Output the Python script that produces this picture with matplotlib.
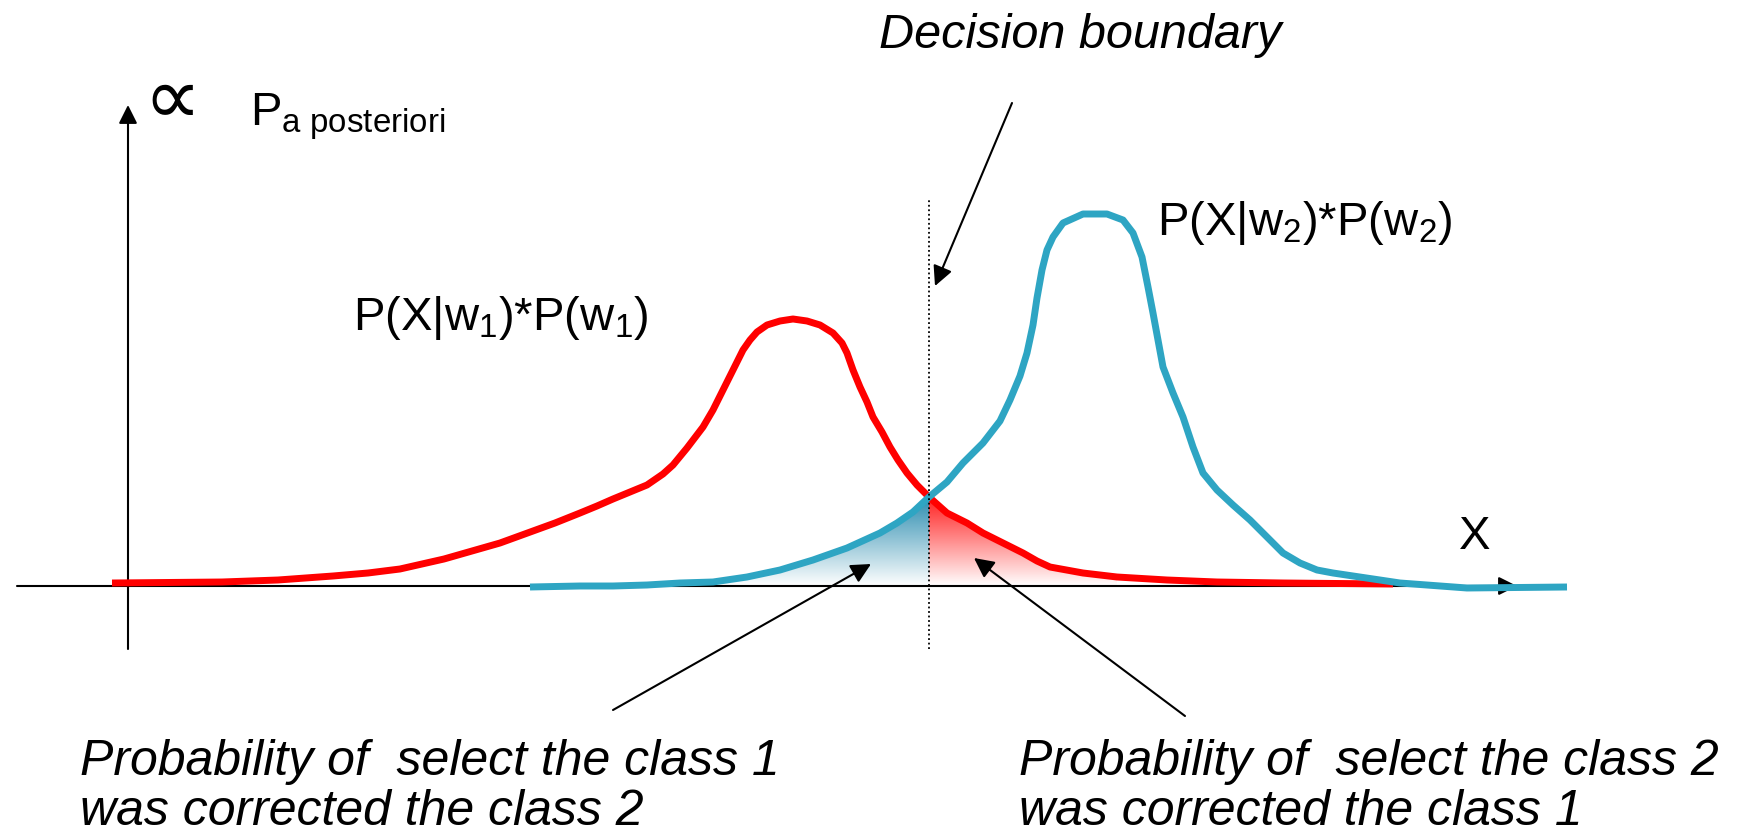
import numpy as np
import matplotlib
matplotlib.use("Agg")
import matplotlib.pyplot as plt
from matplotlib.colors import LinearSegmentedColormap

plt.rcParams['font.family'] = ['Liberation Sans', 'DejaVu Sans']
plt.rcParams['mathtext.fontset'] = 'custom'
plt.rcParams['mathtext.rm'] = 'Liberation Sans'
plt.rcParams['mathtext.it'] = 'Liberation Sans:italic'

# curves: position along X and height above the axis
red_x = [-16, 94, 150, 205, 240, 272, 316, 372, 427, 452, 469, 485, 502, 519, 535, 545,
         559, 575, 585, 595, 605, 615, 622, 629, 639, 652, 665, 679, 692, 705, 714,
         719, 725, 732, 739, 745, 754, 762, 770, 779, 789, 801, 819, 839, 855, 875,
         895, 909, 922, 955, 989, 1039, 1089, 1155, 1265]
red_y = [3, 4, 6, 10, 13, 17, 27, 43, 63, 73, 80, 87, 94, 101, 112, 121,
         138, 159, 176, 196, 216, 236, 246, 254, 261, 265, 267, 265, 261, 253, 243,
         233, 216, 199, 184, 169, 154, 139, 126, 113, 101, 89, 73, 63, 53, 43,
         33, 25, 19, 13, 9, 6, 4, 3, 2]

blue_x = [402, 452, 485, 519, 552, 585, 619, 652, 685, 719, 752, 769, 785, 801, 819,
          835, 855, 872, 882, 892, 899, 905, 909, 914, 919, 925, 935, 955, 979, 995,
          1005, 1014, 1020, 1025, 1030, 1035, 1045, 1055, 1065, 1075, 1089, 1105, 1122,
          1139, 1155, 1172, 1189, 1205, 1272, 1339, 1439]
blue_y = [-1, 0, 0, 1, 3, 4, 9, 16, 26, 38, 53, 63, 74, 89, 104,
          123, 143, 165, 186, 210, 233, 261, 288, 316, 336, 349, 363, 372, 372, 366,
          353, 329, 299, 273, 246, 219, 193, 169, 139, 113, 96, 81, 66,
          49, 33, 23, 16, 13, 3, -2, -1]

boundary = 801
red_fill_end = 1000

label_w1 = r'P(X|w$_1$)*P(w$_1$)'
label_w2 = r'P(X|w$_2$)*P(w$_2$)'
caption_left = ['Probability of  select the class 1', 'was corrected the class 2']
caption_right = ['Probability of  select the class 2', 'was corrected the class 1']

red = '#FF0000'
teal = '#2EA5C3'

fig = plt.figure(figsize=(17.4, 8.35), dpi=100)
ax = fig.add_axes([0, 0, 1, 1])
ax.set_xlim(-128, 1612)
ax.set_ylim(-249, 586)
ax.axis('off')


def gradient_fill(xs, ys, x0, x1, top_color):
    xs = np.asarray(xs, float)
    ys = np.asarray(ys, float)
    m = (xs >= x0) & (xs <= x1)
    px = np.concatenate([xs[m], [xs[m][-1], xs[m][0]]])
    py = np.concatenate([ys[m], [0, 0]])
    poly = ax.fill(px, py, facecolor='none', edgecolor='none')[0]
    cmap = LinearSegmentedColormap.from_list('g', ['white', top_color])
    grad = np.linspace(0, 1, 256).reshape(-1, 1)
    im = ax.imshow(grad, cmap=cmap, aspect='auto', origin='lower',
                   extent=(xs[m].min(), xs[m].max(), 0, ys[m].max()), zorder=1)
    im.set_clip_path(poly)


gradient_fill(blue_x, blue_y, blue_x[0], boundary, '#2C8DB0')
gradient_fill(red_x, red_y, boundary, red_fill_end, '#FF2020')
ax.set_xlim(-128, 1612)
ax.set_ylim(-249, 586)

# axes with arrows
ax.annotate('', xy=(1389, 0), xytext=(-111, 0),
            arrowprops=dict(arrowstyle='-|>', color='black', lw=1.5,
                            mutation_scale=28, shrinkA=0, shrinkB=0), zorder=2)
ax.annotate('', xy=(0, 481), xytext=(0, -63),
            arrowprops=dict(arrowstyle='-|>', color='black', lw=1.5,
                            mutation_scale=28, shrinkA=0, shrinkB=0), zorder=2)

ax.plot(red_x, red_y, color=red, lw=5, solid_capstyle='butt',
        solid_joinstyle='round', zorder=3)
ax.plot(blue_x, blue_y, color=teal, lw=5, solid_capstyle='butt',
        solid_joinstyle='round', zorder=3)

ax.plot([boundary, boundary], [-63, 386], color='black', lw=1.3,
        linestyle=(0, (1, 1.5)), zorder=4)

arrow_kw = dict(arrowstyle='-|>', color='black', lw=1.5, mutation_scale=30,
                shrinkA=0, shrinkB=0)
ax.annotate('', xy=(807, 300), xytext=(884, 483), arrowprops=arrow_kw, zorder=5)
ax.annotate('', xy=(743, 22), xytext=(485, -124), arrowprops=arrow_kw, zorder=5)
ax.annotate('', xy=(846, 28), xytext=(1057, -130), arrowprops=arrow_kw, zorder=5)

ax.text(952, 538, 'Decision boundary', fontsize=35, style='italic',
        ha='center', va='baseline')
ax.text(225, 256, label_w1, fontsize=34, ha='left', va='baseline')
ax.text(1029, 351, label_w2, fontsize=34, ha='left', va='baseline')
ax.text(44, 484, '\u221d', fontsize=58, ha='center', va='center',
        family=['DejaVu Sans'])
ax.text(122, 461, r'P$_{\mathregular{a\ posteriori}}$', fontsize=34,
        ha='left', va='baseline')
ax.text(1347, 37, 'X', fontsize=34, ha='center', va='baseline')

for i, line in enumerate(caption_left):
    ax.text(-48, -189 - 50 * i, line, fontsize=36, style='italic',
            ha='left', va='baseline')
for i, line in enumerate(caption_right):
    ax.text(891, -189 - 50 * i, line, fontsize=36, style='italic',
            ha='left', va='baseline')

fig.savefig('out.png', dpi=100)
